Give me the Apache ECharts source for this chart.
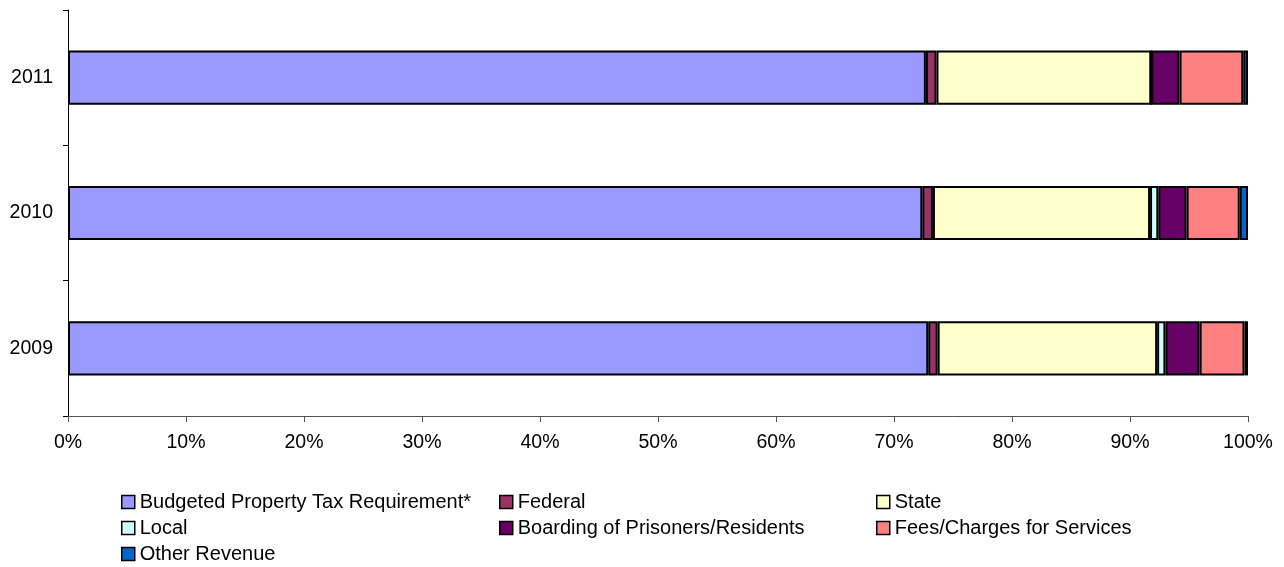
<!DOCTYPE html>
<html>
<head>
<meta charset="utf-8">
<script src="https://cdn.jsdelivr.net/npm/echarts@6/dist/echarts.min.js"></script>
<style>html,body{margin:0;padding:0;background:#fff}#c{width:1284px;height:567px}</style>
</head>
<body>
<div id="c"></div>
<script>
const categories = ['2009', '2010', '2011'];
const seriesNames = ['Budgeted Property Tax Requirement*', 'Federal', 'State', 'Local', 'Boarding of Prisoners/Residents', 'Fees/Charges for Services', 'Other Revenue'];
const budgeted = [72.9, 72.4, 72.7];
const federal = [0.8, 0.9, 0.9];
const state = [18.6, 18.4, 18.2];
const local = [0.7, 0.7, 0.0];
const boarding = [2.9, 2.4, 2.4];
const fees = [3.8, 4.5, 5.4];
const other = [0.3, 0.7, 0.4];
const xTicks = [0, 10, 20, 30, 40, 50, 60, 70, 80, 90, 100];

const colors = ['#9999FF', '#993366', '#FFFFCC', '#CCFFFF', '#660066', '#FF8080', '#0066CC'];
const values = [budgeted, federal, state, local, boarding, fees, other];
const FONT = '"Liberation Sans", Arial, sans-serif';

const series = seriesNames.map((n, i) => ({
  name: n, type: 'bar', stack: 'total', barCategoryGap: '60%',
  data: values[i],
  itemStyle: { color: colors[i], borderColor: '#000', borderWidth: 2 },
  emphasis: { disabled: true }
}));

// legend item positions: [left, top]
const legendPos = [[121, 492], [499, 492], [876, 492], [121, 518], [499, 518], [876, 518], [121, 544]];
const legends = seriesNames.map((n, i) => ({
  data: [n], left: legendPos[i][0], top: legendPos[i][1],
  itemWidth: 13, itemHeight: 13, itemGap: 0, icon: 'rect', padding: 0,
  textStyle: { fontFamily: FONT, fontSize: 20, color: '#000', lineHeight: 20, padding: [0, 0, 0, 0] },
  itemStyle: { borderColor: '#000', borderWidth: 1.5 }
}));

const chart = echarts.init(document.getElementById('c'));
chart.setOption({
  animation: false,
  grid: { left: 68, right: 36, top: 10, bottom: 151 },
  xAxis: {
    type: 'value', min: 0, max: 100, interval: 10,
    axisLine: { show: true, lineStyle: { color: '#555', width: 1 } },
    axisTick: { show: true, length: 6, lineStyle: { color: '#555' } },
    splitLine: { show: false },
    axisLabel: { formatter: v => xTicks.includes(v) ? v + '%' : '', fontFamily: FONT, fontSize: 19.5, color: '#000', margin: 17 }
  },
  yAxis: {
    type: 'category', data: categories,
    axisLine: { show: true, lineStyle: { color: '#000', width: 1 } },
    axisTick: { show: true, length: 5, lineStyle: { color: '#000' } },
    axisLabel: { fontFamily: FONT, fontSize: 19.5, color: '#000', margin: 15 }
  },
  legend: legends,
  series: series
});
</script>
</body>
</html>
